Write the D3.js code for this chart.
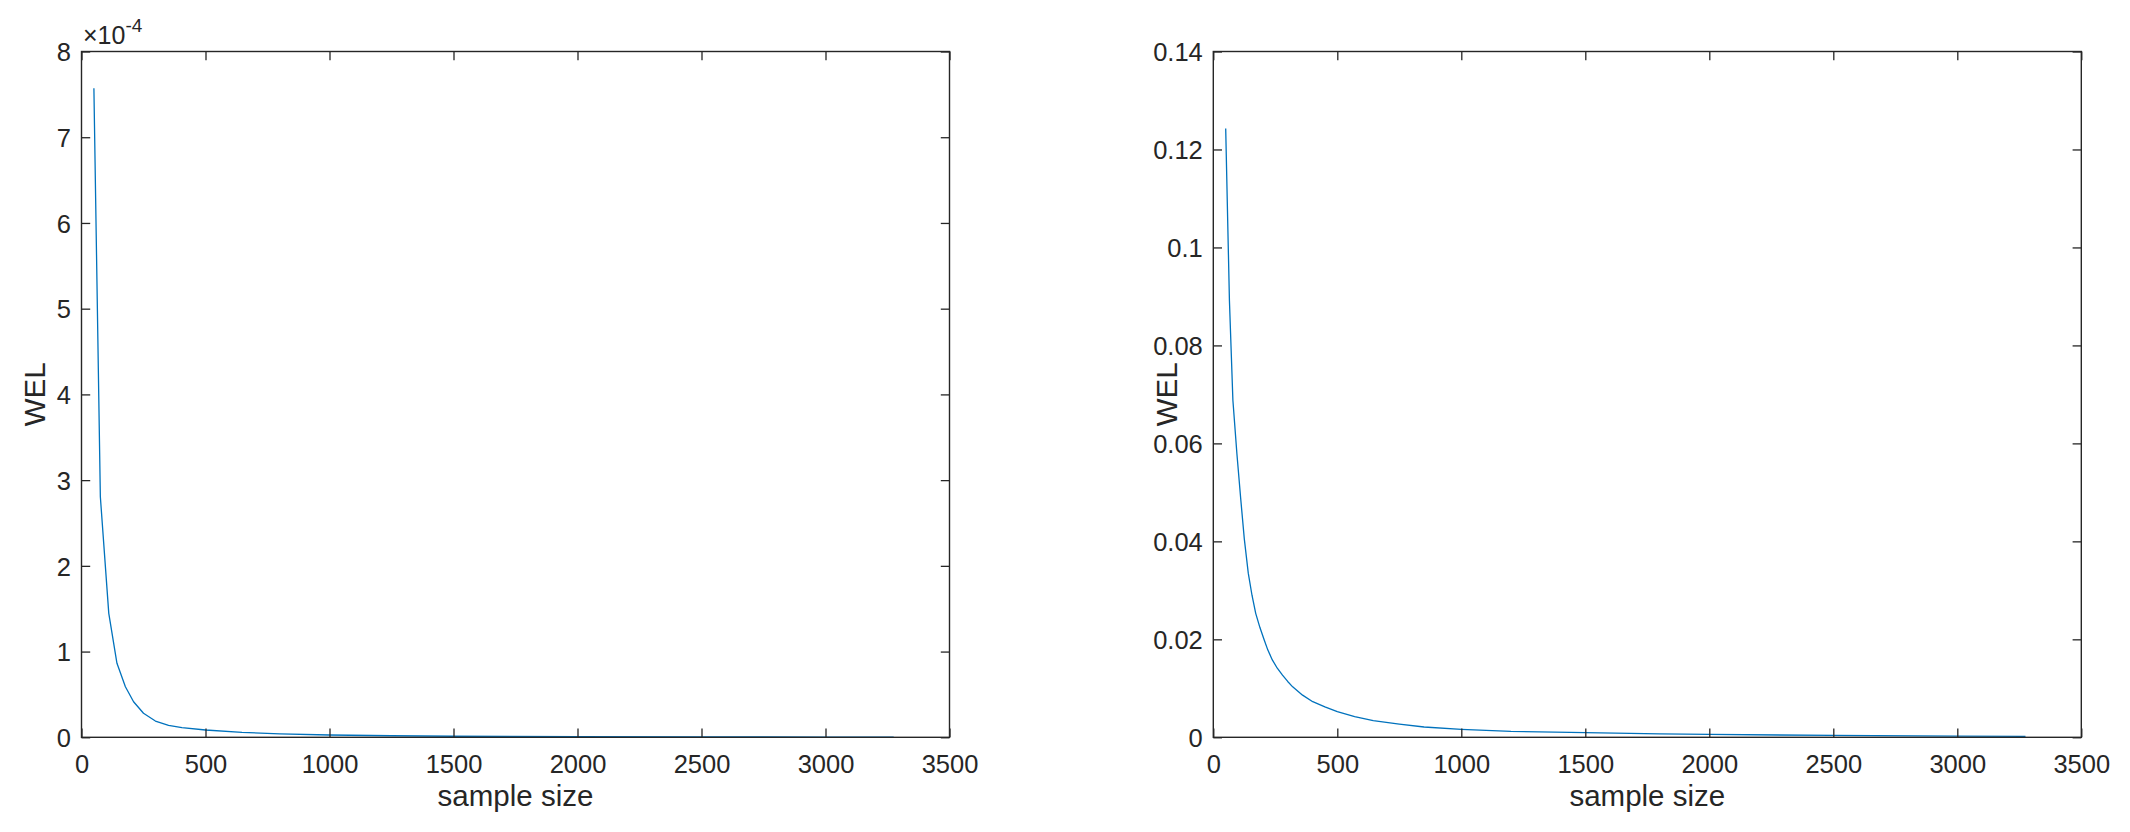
<!DOCTYPE html>
<html>
<head>
<meta charset="utf-8">
<script src="https://cdn.jsdelivr.net/npm/d3@7"></script>
<style>
  html, body { margin: 0; padding: 0; background: #fff; }
  svg { display: block; }
  text { font-family: "Liberation Sans", Arial, Helvetica, sans-serif; fill: #262626; }
</style>
</head>
<body>
<svg id="chart" width="2130" height="832"></svg>
<script>
// ---- data ----
const xTicks = [0, 500, 1000, 1500, 2000, 2500, 3000, 3500];

// left panel (values in units of 1e-4)
const leftN = [50, 76, 110, 143, 177, 210, 250, 298, 351, 405, 500, 647, 800, 1000, 1250, 1500, 2000, 2500, 3000, 3275];
const leftWEL = [7.57, 2.806, 1.446, 0.863, 0.59, 0.415, 0.28, 0.19, 0.14, 0.112, 0.085, 0.058, 0.04, 0.027, 0.018, 0.012, 0.007, 0.0045, 0.003, 0.0025];
const leftYTicks = [0, 1, 2, 3, 4, 5, 6, 7, 8];
const leftExponent = "-4";

// right panel
const rightN = [50, 65, 79, 95, 110, 125, 141, 156, 171, 188, 205, 220, 238, 258, 279, 300, 320, 360, 401, 450, 500, 570, 645, 750, 850, 1000, 1200, 1500, 1800, 2000, 2500, 3000, 3275];
const rightWEL = [0.1243, 0.0892, 0.0688, 0.0580, 0.049, 0.0405, 0.0335, 0.0290, 0.0253, 0.0224, 0.0199, 0.0178, 0.0158, 0.0141, 0.0127, 0.0114, 0.0103, 0.0086, 0.00727, 0.0062, 0.00523, 0.0042, 0.0034, 0.0027, 0.0021, 0.00163, 0.0012, 0.00094, 0.0007, 0.00058, 0.00038, 0.00025, 0.0002];
const rightYTicks = [0, 0.02, 0.04, 0.06, 0.08, 0.1, 0.12, 0.14];

const xLabel = "sample size";
const yLabel = "WEL";

// ---- drawing ----
const svg = d3.select("#chart");
const AX = "#262626";
const LINE = "#0072BD";
const plotTop = 51.5, plotBottom = 737.3, plotW = 868;
const tickLen = 8.7;
const tickFont = 25.5, labelFont = 29.5;

function panel(x0, xs, ys, yDomain, yTicks, yFmt, exponent) {
  const g = svg.append("g");
  const x = d3.scaleLinear().domain([0, 3500]).range([x0, x0 + plotW]);
  const y = d3.scaleLinear().domain(yDomain).range([plotBottom, plotTop]);

  const pts = xs.map((n, i) => [n, ys[i]]);
  g.append("path")
    .datum(pts)
    .attr("fill", "none")
    .attr("stroke", LINE)
    .attr("stroke-width", 1.3)
    .attr("stroke-linejoin", "round")
    .attr("d", d3.line().x(d => x(d[0])).y(d => y(d[1])));

  const axB = g.append("g").attr("transform", `translate(0,${plotBottom})`)
    .call(d3.axisBottom(x).tickValues(xTicks).tickSizeInner(-tickLen).tickSizeOuter(0).tickPadding(0).tickFormat(d3.format("d")));
  axB.selectAll("text").attr("dy", null).attr("y", 35.5).style("font-size", tickFont + "px").attr("fill", AX);
  const axT = g.append("g").attr("transform", `translate(0,${plotTop})`)
    .call(d3.axisTop(x).tickValues(xTicks).tickSizeInner(-tickLen).tickSizeOuter(0).tickFormat(""));
  const axL = g.append("g").attr("transform", `translate(${x0},0)`)
    .call(d3.axisLeft(y).tickValues(yTicks).tickSizeInner(-tickLen).tickSizeOuter(0).tickPadding(0).tickFormat(yFmt));
  axL.selectAll("text").attr("x", -10.5).attr("dy", "0.36em").style("font-size", tickFont + "px").attr("fill", AX);
  const axR = g.append("g").attr("transform", `translate(${x0 + plotW},0)`)
    .call(d3.axisRight(y).tickValues(yTicks).tickSizeInner(-tickLen).tickSizeOuter(0).tickFormat(""));
  [axB, axT, axL, axR].forEach(a => {
    a.select(".domain").remove();
    a.selectAll("line").attr("stroke", AX).attr("stroke-width", 1.3);
  });
  g.append("rect").attr("x", x0).attr("y", plotTop).attr("width", plotW).attr("height", plotBottom - plotTop)
    .attr("fill", "none").attr("stroke", AX).attr("stroke-width", 1.4);

  g.append("text").attr("x", x0 + plotW / 2).attr("y", 806)
    .attr("text-anchor", "middle").style("font-size", labelFont + "px").text(xLabel);
  g.append("text")
    .attr("transform", `translate(${x0 - 36.5},${(plotTop + plotBottom) / 2}) rotate(-90)`)
    .attr("text-anchor", "middle").style("font-size", labelFont + "px").text(yLabel);

  if (exponent) {
    const t = g.append("text").attr("x", x0 + 1.5).attr("y", 44).style("font-size", "25px");
    t.append("tspan").text("\u00D710");
    t.append("tspan").attr("dy", -12).style("font-size", "19px").text(exponent);
  }
}

panel(81.5, leftN, leftWEL, [0, 8], leftYTicks, d3.format("d"), leftExponent);
panel(1213.3, rightN, rightWEL, [0, 0.14], rightYTicks, d => d === 0 ? "0" : String(+d.toFixed(2)), null);
</script>
</body>
</html>
